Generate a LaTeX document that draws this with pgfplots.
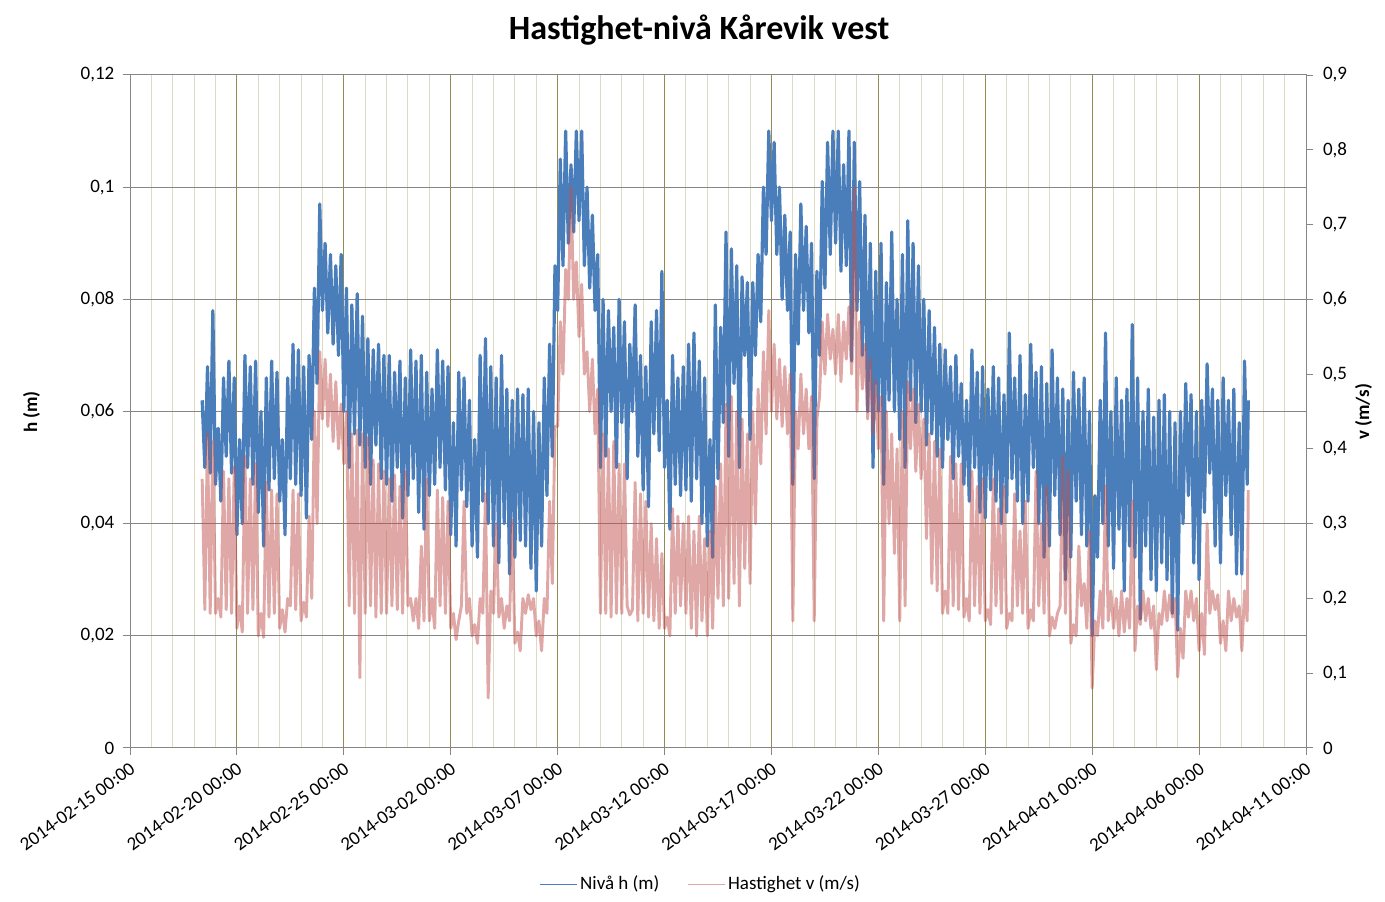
\documentclass[border=0pt]{standalone}
\usepackage{fontspec}
\setmainfont{Carlito}
\usepackage{pgfplots}
\pgfplotsset{compat=1.18}
\definecolor{hblue}{HTML}{4A7EBB}
\definecolor{vred}{HTML}{C0504D}
\definecolor{gridgrey}{HTML}{868686}
\definecolor{majorx}{HTML}{948A54}
\definecolor{minorx}{HTML}{DDD9C3}
\newcommand{\tfont}{\fontsize{14.25}{17}\selectfont}
\pgfplotsset{
  common/.style={
    at={(97.5pt,115.5pt)}, anchor=south west,
    scale only axis, width=882pt, height=504.75pt,
    xmin=0, xmax=55,
    /pgf/number format/assume math mode=true,
    tick label style={font=\tfont, text=black},
  }
}
\begin{document}
\begin{tikzpicture}
\useasboundingbox (0,0) rectangle (1038.75pt,676.5pt);
% vertical grid
\begin{axis}[common, ymin=0, ymax=0.12,
  xtick={0,5,...,55}, minor x tick num=4, xticklabels={}, ytick=\empty,
  xmajorgrids, xminorgrids,
  major grid style={draw=majorx, line width=0.75pt},
  minor grid style={draw=minorx, line width=0.75pt},
  tick style={draw=none}, axis line style={draw=none}]
\end{axis}
% main axis (h)
\begin{axis}[common, ymin=0, ymax=0.12,
  xtick={0,5,...,55},
  xticklabels={2014-02-15 00:00,2014-02-20 00:00,2014-02-25 00:00,2014-03-02 00:00,2014-03-07 00:00,2014-03-12 00:00,2014-03-17 00:00,2014-03-22 00:00,2014-03-27 00:00,2014-04-01 00:00,2014-04-06 00:00,2014-04-11 00:00},
  xticklabel style={rotate=36, anchor=north east},
  ytick={0,0.02,0.04,0.06,0.08,0.1,0.12},
  scaled y ticks=false,
  yticklabel style={/pgf/number format/.cd, fixed, use comma, precision=2, /tikz/.cd, xshift=-3pt},
  xtick pos=left, ytick pos=left,
  tick align=outside, major tick length=5.25pt,
  tick style={draw=gridgrey, line width=0.75pt},
  axis line style={draw=gridgrey, line width=0.75pt},
  ymajorgrids, major grid style={draw=gridgrey, line width=0.75pt}]
\addplot[hblue, line width=2.4pt, line join=round] coordinates {
(3.375,.062)(3.5,.050)(3.625,.068)(3.75,.049)(3.875,.078)
(4,.047)(4.125,.057)(4.25,.044)(4.375,.066)(4.5,.052)(4.625,.069)(4.75,.049)(4.875,.066)
(5,.038)(5.125,.055)(5.25,.040)(5.375,.070)(5.5,.050)(5.625,.068)(5.75,.047)(5.875,.069)
(6,.042)(6.125,.060)(6.25,.036)(6.375,.066)(6.5,.046)(6.625,.069)(6.75,.048)(6.875,.067)
(7,.044)(7.125,.055)(7.25,.038)(7.375,.066)(7.5,.048)(7.625,.072)(7.75,.047)(7.875,.071)
(8,.045)(8.125,.068)(8.25,.041)(8.375,.070)(8.5,.055)(8.625,.082)(8.75,.065)(8.875,.097)
(9,.078)(9.125,.090)(9.25,.074)(9.375,.088)(9.5,.072)(9.625,.086)(9.75,.070)(9.875,.088)
(10,.060)(10.125,.082)(10.25,.050)(10.375,.079)(10.5,.056)(10.625,.081)(10.75,.054)(10.875,.077)
(11,.050)(11.125,.073)(11.25,.047)(11.375,.071)(11.5,.054)(11.625,.072)(11.75,.048)(11.875,.070)
(12,.047)(12.125,.070)(12.25,.044)(12.375,.067)(12.5,.050)(12.625,.069)(12.75,.041)(12.875,.066)
(13,.045)(13.125,.071)(13.25,.048)(13.375,.069)(13.5,.042)(13.625,.070)(13.75,.039)(13.875,.067)
(14,.045)(14.125,.064)(14.25,.047)(14.375,.071)(14.5,.050)(14.625,.069)(14.75,.046)(14.875,.068)
(15,.038)(15.125,.058)(15.25,.036)(15.375,.067)(15.5,.046)(15.625,.066)(15.75,.043)(15.875,.062)
(16,.036)(16.125,.055)(16.25,.034)(16.375,.070)(16.5,.044)(16.625,.073)(16.75,.040)(16.875,.068)
(17,.036)(17.125,.066)(17.25,.033)(17.375,.070)(17.5,.040)(17.625,.064)(17.75,.031)(17.875,.062)
(18,.034)(18.125,.064)(18.25,.037)(18.375,.063)(18.5,.036)(18.625,.064)(18.75,.032)(18.875,.060)
(19,.028)(19.125,.058)(19.25,.036)(19.375,.066)(19.5,.045)(19.625,.072)(19.75,.052)(19.875,.086)
(20,.078)(20.125,.105)(20.25,.086)(20.375,.110)(20.5,.090)(20.625,.104)(20.75,.092)(20.875,.110)
(21,.094)(21.125,.110)(21.25,.086)(21.375,.100)(21.5,.082)(21.625,.095)(21.75,.078)(21.875,.088)
(22,.050)(22.125,.080)(22.25,.052)(22.375,.078)(22.5,.060)(22.625,.075)(22.75,.050)(22.875,.080)
(23,.058)(23.125,.076)(23.25,.048)(23.375,.072)(23.5,.060)(23.625,.079)(23.75,.052)(23.875,.070)
(24,.046)(24.125,.068)(24.25,.043)(24.375,.076)(24.5,.056)(24.625,.078)(24.75,.053)(24.875,.085)
(25,.050)(25.125,.062)(25.25,.039)(25.375,.070)(25.5,.047)(25.625,.066)(25.75,.045)(25.875,.068)
(26,.046)(26.125,.072)(26.25,.044)(26.375,.074)(26.5,.048)(26.625,.069)(26.75,.040)(26.875,.066)
(27,.036)(27.125,.055)(27.25,.034)(27.375,.079)(27.5,.048)(27.625,.075)(27.75,.058)(27.875,.092)
(28,.052)(28.125,.089)(28.25,.065)(28.375,.086)(28.5,.050)(28.625,.084)(28.75,.070)(28.875,.083)
(29,.055)(29.125,.083)(29.25,.070)(29.375,.088)(29.5,.076)(29.625,.100)(29.75,.088)(29.875,.110)
(30,.094)(30.125,.108)(30.25,.088)(30.375,.100)(30.5,.080)(30.625,.095)(30.75,.078)(30.875,.092)
(31,.047)(31.125,.088)(31.25,.072)(31.375,.097)(31.5,.078)(31.625,.093)(31.75,.074)(31.875,.090)
(32,.048)(32.125,.085)(32.25,.070)(32.375,.101)(32.5,.082)(32.625,.108)(32.75,.088)(32.875,.110)
(33,.090)(33.125,.110)(33.25,.085)(33.375,.104)(33.5,.086)(33.625,.110)(33.75,.069)(33.875,.108)
(34,.078)(34.125,.101)(34.25,.070)(34.375,.095)(34.5,.060)(34.625,.090)(34.75,.050)(34.875,.085)
(35,.060)(35.125,.090)(35.25,.047)(35.375,.083)(35.5,.062)(35.625,.092)(35.75,.060)(35.875,.080)
(36,.055)(36.125,.088)(36.25,.050)(36.375,.094)(36.5,.062)(36.625,.090)(36.75,.058)(36.875,.086)
(37,.060)(37.125,.080)(37.25,.054)(37.375,.078)(37.5,.056)(37.625,.075)(37.75,.052)(37.875,.072)
(38,.050)(38.125,.071)(38.25,.055)(38.375,.068)(38.5,.048)(38.625,.070)(38.75,.052)(38.875,.065)
(39,.047)(39.125,.062)(39.25,.044)(39.375,.071)(39.5,.050)(39.625,.067)(39.75,.042)(39.875,.068)
(40,.041)(40.125,.064)(40.25,.046)(40.375,.068)(40.5,.044)(40.625,.066)(40.75,.040)(40.875,.063)
(41,.042)(41.125,.074)(41.25,.048)(41.375,.066)(41.5,.044)(41.625,.070)(41.75,.040)(41.875,.063)
(42,.044)(42.125,.072)(42.25,.050)(42.375,.067)(42.5,.040)(42.625,.068)(42.75,.034)(42.875,.065)
(43,.036)(43.125,.071)(43.25,.045)(43.375,.066)(43.5,.038)(43.625,.064)(43.75,.030)(43.875,.062)
(44,.034)(44.125,.067)(44.25,.044)(44.375,.064)(44.5,.038)(44.625,.066)(44.75,.036)(44.875,.060)
(45,.020)(45.125,.045)(45.25,.034)(45.375,.062)(45.5,.040)(45.625,.074)(45.75,.036)(45.875,.060)
(46,.032)(46.125,.066)(46.25,.039)(46.375,.062)(46.5,.028)(46.625,.064)(46.75,.036)(46.875,.0755)
(47,.034)(47.125,.066)(47.25,.023)(47.375,.060)(47.5,.036)(47.625,.064)(47.75,.030)(47.875,.059)
(48,.028)(48.125,.062)(48.25,.033)(48.375,.063)(48.5,.030)(48.625,.060)(48.75,.024)(48.875,.058)
(49,.021)(49.125,.060)(49.25,.040)(49.375,.065)(49.5,.045)(49.625,.063)(49.75,.033)(49.875,.060)
(50,.030)(50.125,.062)(50.25,.042)(50.375,.0685)(50.5,.049)(50.625,.064)(50.75,.036)(50.875,.062)
(51,.033)(51.125,.066)(51.25,.045)(51.375,.062)(51.5,.038)(51.625,.064)(51.75,.031)(51.875,.058)
(52,.031)(52.125,.069)(52.25,.047)(52.3,.062)
};
\end{axis}
% right axis (v)
\begin{axis}[common, ymin=0, ymax=0.9,
  axis x line=none, axis y line*=right, xtick=\empty,
  ytick={0,0.1,0.2,0.3,0.4,0.5,0.6,0.7,0.8,0.9},
  yticklabel style={/pgf/number format/.cd, fixed, use comma, precision=1, /tikz/.cd, xshift=4pt},
  tick align=outside, major tick length=5.25pt,
  tick style={draw=gridgrey, line width=0.75pt},
  y axis line style={draw=gridgrey, line width=0.75pt, -},
  legend style={at={(0.4855,-0.2021)}, anchor=center, draw=none, fill=none,
    font=\tfont, legend columns=2,
    /tikz/every even column/.append style={column sep=19pt}},
  legend image code/.code={\draw[#1, line width=0.75pt] (0pt,0pt) -- (27.75pt,0pt);}]
\addlegendimage{hblue}
\addlegendentry{Nivå h (m)}
\addplot[vred, draw opacity=0.5, line width=2.2pt, line join=round] coordinates {
(3.375,.36)(3.5,.185)(3.625,.42)(3.75,.18)(3.875,.41)
(4,.18)(4.125,.20)(4.25,.175)(4.375,.37)(4.5,.185)(4.625,.36)(4.75,.18)(4.875,.376)
(5,.16)(5.125,.19)(5.25,.155)(5.375,.39)(5.5,.18)(5.625,.36)(5.75,.185)(5.875,.38)
(6,.15)(6.125,.18)(6.25,.148)(6.375,.355)(6.5,.175)(6.625,.345)(6.75,.18)(6.875,.34)
(7,.16)(7.125,.185)(7.25,.155)(7.375,.20)(7.5,.19)(7.625,.345)(7.75,.185)(7.875,.34)
(8,.17)(8.125,.195)(8.25,.175)(8.375,.31)(8.5,.20)(8.625,.45)(8.75,.30)(8.875,.53)
(9,.44)(9.125,.52)(9.25,.43)(9.375,.50)(9.5,.41)(9.625,.49)(9.75,.40)(9.875,.46)
(10,.38)(10.125,.45)(10.25,.19)(10.375,.42)(10.5,.18)(10.625,.425)(10.75,.094)(10.875,.42)
(11,.18)(11.125,.415)(11.25,.19)(11.375,.385)(11.5,.175)(11.625,.38)(11.75,.18)(11.875,.37)
(12,.18)(12.125,.36)(12.25,.19)(12.375,.365)(12.5,.185)(12.625,.35)(12.75,.18)(12.875,.37)
(13,.19)(13.125,.20)(13.25,.17)(13.375,.20)(13.5,.16)(13.625,.27)(13.75,.17)(13.875,.36)
(14,.17)(14.125,.20)(14.25,.16)(14.375,.345)(14.5,.19)(14.625,.335)(14.75,.18)(14.875,.33)
(15,.16)(15.125,.18)(15.25,.145)(15.375,.17)(15.5,.19)(15.625,.33)(15.75,.18)(15.875,.20)
(16,.15)(16.125,.165)(16.25,.14)(16.375,.20)(16.5,.18)(16.625,.34)(16.75,.067)(16.875,.21)
(17,.18)(17.125,.30)(17.25,.175)(17.375,.20)(17.5,.16)(17.625,.19)(17.75,.17)(17.875,.305)
(18,.14)(18.125,.155)(18.25,.13)(18.375,.20)(18.5,.18)(18.625,.205)(18.75,.185)(18.875,.20)
(19,.15)(19.125,.17)(19.25,.13)(19.375,.20)(19.5,.18)(19.625,.33)(19.75,.22)(19.875,.43)
(20,.43)(20.125,.57)(20.25,.50)(20.375,.64)(20.5,.60)(20.625,.75)(20.75,.60)(20.875,.65)
(21,.55)(21.125,.62)(21.25,.50)(21.375,.53)(21.5,.45)(21.625,.52)(21.75,.42)(21.875,.48)
(22,.18)(22.125,.42)(22.25,.18)(22.375,.40)(22.5,.175)(22.625,.41)(22.75,.18)(22.875,.38)
(23,.18)(23.125,.38)(23.25,.19)(23.375,.178)(23.5,.185)(23.625,.355)(23.75,.17)(23.875,.34)
(24,.18)(24.125,.33)(24.25,.175)(24.375,.30)(24.5,.17)(24.625,.28)(24.75,.16)(24.875,.26)
(25,.16)(25.125,.175)(25.25,.15)(25.375,.32)(25.5,.18)(25.625,.31)(25.75,.19)(25.875,.30)
(26,.18)(26.125,.31)(26.25,.16)(26.375,.29)(26.5,.15)(26.625,.31)(26.75,.17)(26.875,.28)
(27,.15)(27.125,.29)(27.25,.16)(27.375,.35)(27.5,.20)(27.625,.38)(27.75,.19)(27.875,.46)
(28,.20)(28.125,.47)(28.25,.22)(28.375,.45)(28.5,.19)(28.625,.44)(28.75,.24)(28.875,.42)
(29,.22)(29.125,.45)(29.25,.30)(29.375,.48)(29.5,.38)(29.625,.53)(29.75,.42)(29.875,.585)
(30,.45)(30.125,.54)(30.25,.44)(30.375,.52)(30.5,.43)(30.625,.51)(30.75,.42)(30.875,.50)
(31,.17)(31.125,.45)(31.25,.40)(31.375,.50)(31.5,.42)(31.625,.48)(31.75,.40)(31.875,.47)
(32,.17)(32.125,.44)(32.25,.47)(32.375,.57)(32.5,.50)(32.625,.58)(32.75,.52)(32.875,.56)
(33,.50)(33.125,.58)(33.25,.49)(33.375,.57)(33.5,.52)(33.625,.59)(33.75,.50)(33.875,.75)
(34,.45)(34.125,.57)(34.25,.48)(34.375,.54)(34.5,.44)(34.625,.52)(34.75,.42)(34.875,.49)
(35,.40)(35.125,.47)(35.25,.17)(35.375,.45)(35.5,.30)(35.625,.42)(35.75,.26)(35.875,.40)
(36,.17)(36.125,.45)(36.25,.19)(36.375,.49)(36.5,.40)(36.625,.48)(36.75,.37)(36.875,.46)
(37,.36)(37.125,.44)(37.25,.28)(37.375,.42)(37.5,.22)(37.625,.41)(37.75,.21)(37.875,.40)
(38,.18)(38.125,.21)(38.25,.18)(38.375,.39)(38.5,.19)(38.625,.38)(38.75,.185)(38.875,.38)
(39,.175)(39.125,.20)(39.25,.17)(39.375,.37)(39.5,.19)(39.625,.35)(39.75,.18)(39.875,.36)
(40,.17)(40.125,.185)(40.25,.165)(40.375,.36)(40.5,.19)(40.625,.32)(40.75,.18)(40.875,.35)
(41,.16)(41.125,.18)(41.25,.17)(41.375,.34)(41.5,.19)(41.625,.29)(41.75,.18)(41.875,.33)
(42,.16)(42.125,.185)(42.25,.17)(42.375,.37)(42.5,.19)(42.625,.30)(42.75,.18)(42.875,.35)
(43,.15)(43.125,.175)(43.25,.16)(43.375,.18)(43.5,.19)(43.625,.39)(43.75,.18)(43.875,.37)
(44,.14)(44.125,.165)(44.25,.15)(44.375,.27)(44.5,.19)(44.625,.22)(44.75,.16)(44.875,.29)
(45,.08)(45.125,.17)(45.25,.15)(45.375,.21)(45.5,.16)(45.625,.35)(45.75,.17)(45.875,.21)
(46,.16)(46.125,.20)(46.25,.15)(46.375,.21)(46.5,.155)(46.625,.20)(46.75,.16)(46.875,.33)
(47,.13)(47.125,.19)(47.25,.165)(47.375,.21)(47.5,.17)(47.625,.20)(47.75,.16)(47.875,.19)
(48,.105)(48.125,.18)(48.25,.165)(48.375,.21)(48.5,.17)(48.625,.205)(48.75,.175)(48.875,.20)
(49,.095)(49.125,.16)(49.25,.12)(49.375,.21)(49.5,.175)(49.625,.21)(49.75,.17)(49.875,.20)
(50,.13)(50.125,.18)(50.25,.125)(50.375,.30)(50.5,.18)(50.625,.21)(50.75,.185)(50.875,.205)
(51,.14)(51.125,.17)(51.25,.13)(51.375,.21)(51.5,.17)(51.625,.20)(51.75,.175)(51.875,.19)
(52,.13)(52.125,.21)(52.25,.17)(52.3,.345)
};
\addlegendentry{Hastighet v (m/s)}
\end{axis}
\node[anchor=base, font=\fontsize{25.5}{30}\selectfont\bfseries] at (524.4pt,647pt) {Hastighet-nivå Kårevik vest};
\node[rotate=90, font=\tfont\bfseries] at (23.6pt,367.5pt) {h (m)};
\node[rotate=90, font=\tfont\bfseries] at (1022.6pt,367.5pt) {v (m/s)};
\end{tikzpicture}
\end{document}
